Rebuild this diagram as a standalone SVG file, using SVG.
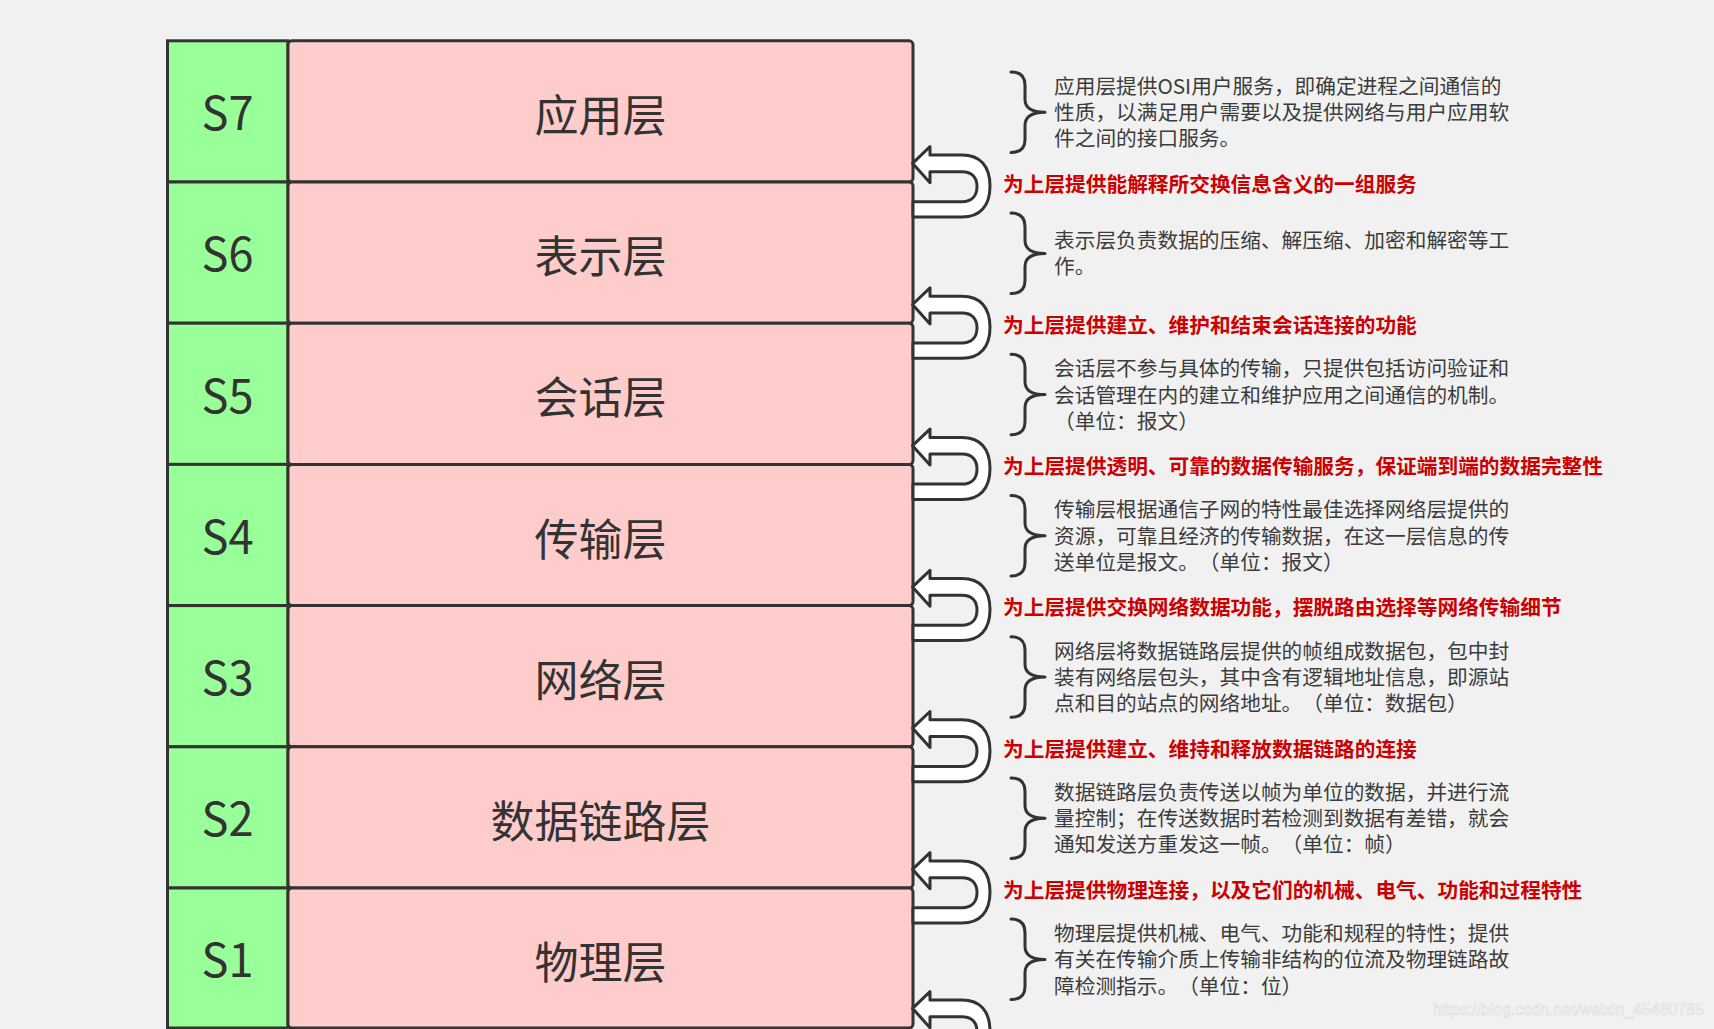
<svg xmlns="http://www.w3.org/2000/svg" width="1714" height="1029" viewBox="0 0 1714 1029">
<style>
.bg{fill:#f1f1f1}
.num{fill:#99ff99;stroke:#333;stroke-width:3}
.box{fill:#ffcccc;stroke:#333;stroke-width:3}
.sid{font-family:"Noto Sans CJK SC","Noto Sans",sans-serif;font-size:47px;fill:#333;text-anchor:middle}
.name{font-family:"Noto Sans CJK SC",sans-serif;font-size:44px;fill:#333;text-anchor:middle}
.desc{font-family:"Noto Sans CJK SC",sans-serif;font-size:20.7px;fill:#3c3c3c;text-spacing-trim:space-all}
.lbl{font-family:"Noto Sans CJK SC",sans-serif;font-size:20.7px;font-weight:bold;fill:#cc0000;text-spacing-trim:space-all}
.brace{fill:none;stroke:#333;stroke-width:3;stroke-linecap:round;stroke-linejoin:round}
.uturn{fill:#fff;stroke:#333;stroke-width:3;stroke-linejoin:round}
.wm{font-family:"Liberation Sans",Arial,sans-serif;font-size:16px;fill:#fbfbfb;stroke:#dadada;stroke-width:0.6}
</style>
<defs>
<path id="brace" d="M1011,-39.5 Q1025,-39.5 1025,-26 V-12 Q1025,0.8 1045,0.8 Q1025,0.8 1025,14 V28 Q1025,41 1011,41"/>
<path id="uturn" d="M930,-27 H962 C980,-27 990,-16 990,4 C990,24 980,35 962,35 H913 V19.7 H962 C972,19.7 977,13.5 977,4.5 C977,-4.5 972,-10.3 962,-10.3 H930 V0.7 L912.5,-18.7 L930,-35.3 Z"/>
</defs>
<rect class="bg" x="0" y="0" width="1714" height="1029"/>

<g id="layer-s7">
<rect class="num" x="167.5" y="40.8" width="120.5" height="141.2"/>
<rect class="box" x="288" y="40.8" width="625" height="141.2" rx="4"/>
<text class="sid" x="227.5" y="130.1" textLength="52" lengthAdjust="spacingAndGlyphs">S7</text>
<text class="name" x="600.5" y="132">应用层</text>
</g>
<g id="layer-s6">
<rect class="num" x="167.5" y="182" width="120.5" height="141.2"/>
<rect class="box" x="288" y="182" width="625" height="141.2" rx="4"/>
<text class="sid" x="227.5" y="271.3" textLength="52" lengthAdjust="spacingAndGlyphs">S6</text>
<text class="name" x="600.5" y="273.2">表示层</text>
</g>
<g id="layer-s5">
<rect class="num" x="167.5" y="323.2" width="120.5" height="141.2"/>
<rect class="box" x="288" y="323.2" width="625" height="141.2" rx="4"/>
<text class="sid" x="227.5" y="412.5" textLength="52" lengthAdjust="spacingAndGlyphs">S5</text>
<text class="name" x="600.5" y="414.4">会话层</text>
</g>
<g id="layer-s4">
<rect class="num" x="167.5" y="464.4" width="120.5" height="141.2"/>
<rect class="box" x="288" y="464.4" width="625" height="141.2" rx="4"/>
<text class="sid" x="227.5" y="553.7" textLength="52" lengthAdjust="spacingAndGlyphs">S4</text>
<text class="name" x="600.5" y="555.6">传输层</text>
</g>
<g id="layer-s3">
<rect class="num" x="167.5" y="605.6" width="120.5" height="141.2"/>
<rect class="box" x="288" y="605.6" width="625" height="141.2" rx="4"/>
<text class="sid" x="227.5" y="694.9" textLength="52" lengthAdjust="spacingAndGlyphs">S3</text>
<text class="name" x="600.5" y="696.8">网络层</text>
</g>
<g id="layer-s2">
<rect class="num" x="167.5" y="746.8" width="120.5" height="141.2"/>
<rect class="box" x="288" y="746.8" width="625" height="141.2" rx="4"/>
<text class="sid" x="227.5" y="836.1" textLength="52" lengthAdjust="spacingAndGlyphs">S2</text>
<text class="name" x="600.5" y="838">数据链路层</text>
</g>
<g id="layer-s1">
<rect class="num" x="167.5" y="888" width="120.5" height="140"/>
<rect class="box" x="288" y="888" width="625" height="140" rx="4"/>
<text class="sid" x="227.5" y="977.3" textLength="52" lengthAdjust="spacingAndGlyphs">S1</text>
<text class="name" x="600.5" y="979.2">物理层</text>
</g>

<g id="desc-s7">
<use href="#brace" class="brace" transform="translate(0,111.4)"/>
<text class="desc"><tspan x="1054" y="93.85">应用层提供OSI用户服务，即确定进程之间通信的</tspan><tspan x="1054" y="120.1">性质，以满足用户需要以及提供网络与用户应用软</tspan><tspan x="1054" y="146.35">件之间的接口服务。</tspan></text>
</g>
<g id="desc-s6">
<use href="#brace" class="brace" transform="translate(0,252.6)"/>
<text class="desc"><tspan x="1054" y="248.2">表示层负责数据的压缩、解压缩、加密和解密等工</tspan><tspan x="1054" y="274.4">作。</tspan></text>
</g>
<g id="desc-s5">
<use href="#brace" class="brace" transform="translate(0,393.8)"/>
<text class="desc"><tspan x="1054" y="376.25">会话层不参与具体的传输，只提供包括访问验证和</tspan><tspan x="1054" y="402.5">会话管理在内的建立和维护应用之间通信的机制。</tspan><tspan x="1054" y="428.75">（单位：报文）</tspan></text>
</g>
<g id="desc-s4">
<use href="#brace" class="brace" transform="translate(0,535)"/>
<text class="desc"><tspan x="1054" y="517.45">传输层根据通信子网的特性最佳选择网络层提供的</tspan><tspan x="1054" y="543.7">资源，可靠且经济的传输数据，在这一层信息的传</tspan><tspan x="1054" y="569.95">送单位是报文。（单位：报文）</tspan></text>
</g>
<g id="desc-s3">
<use href="#brace" class="brace" transform="translate(0,676.2)"/>
<text class="desc"><tspan x="1054" y="658.65">网络层将数据链路层提供的帧组成数据包，包中封</tspan><tspan x="1054" y="684.9">装有网络层包头，其中含有逻辑地址信息，即源站</tspan><tspan x="1054" y="711.15">点和目的站点的网络地址。（单位：数据包）</tspan></text>
</g>
<g id="desc-s2">
<use href="#brace" class="brace" transform="translate(0,817.4)"/>
<text class="desc"><tspan x="1054" y="799.85">数据链路层负责传送以帧为单位的数据，并进行流</tspan><tspan x="1054" y="826.1">量控制；在传送数据时若检测到数据有差错，就会</tspan><tspan x="1054" y="852.35">通知发送方重发这一帧。（单位：帧）</tspan></text>
</g>
<g id="desc-s1">
<use href="#brace" class="brace" transform="translate(0,958.6)"/>
<text class="desc"><tspan x="1054" y="941.05">物理层提供机械、电气、功能和规程的特性；提供</tspan><tspan x="1054" y="967.3">有关在传输介质上传输非结构的位流及物理链路故</tspan><tspan x="1054" y="993.55">障检测指示。（单位：位）</tspan></text>
</g>

<g id="connectors">
<use href="#uturn" class="uturn" transform="translate(0,182)"/>
<use href="#uturn" class="uturn" transform="translate(0,323.2)"/>
<use href="#uturn" class="uturn" transform="translate(0,464.4)"/>
<use href="#uturn" class="uturn" transform="translate(0,605.6)"/>
<use href="#uturn" class="uturn" transform="translate(0,746.8)"/>
<use href="#uturn" class="uturn" transform="translate(0,888)"/>
<use href="#uturn" class="uturn" transform="translate(0,1027)"/>
<text class="lbl" x="1003" y="191.8">为上层提供能解释所交换信息含义的一组服务</text>
<text class="lbl" x="1003" y="333">为上层提供建立、维护和结束会话连接的功能</text>
<text class="lbl" x="1003" y="474.2">为上层提供透明、可靠的数据传输服务，保证端到端的数据完整性</text>
<text class="lbl" x="1003" y="615.4">为上层提供交换网络数据功能，摆脱路由选择等网络传输细节</text>
<text class="lbl" x="1003" y="756.6">为上层提供建立、维持和释放数据链路的连接</text>
<text class="lbl" x="1003" y="897.8">为上层提供物理连接，以及它们的机械、电气、功能和过程特性</text>
</g>

<text class="wm" x="1433" y="1015" textLength="271" lengthAdjust="spacingAndGlyphs">https://blog.csdn.net/weixin_45480785</text>
</svg>
